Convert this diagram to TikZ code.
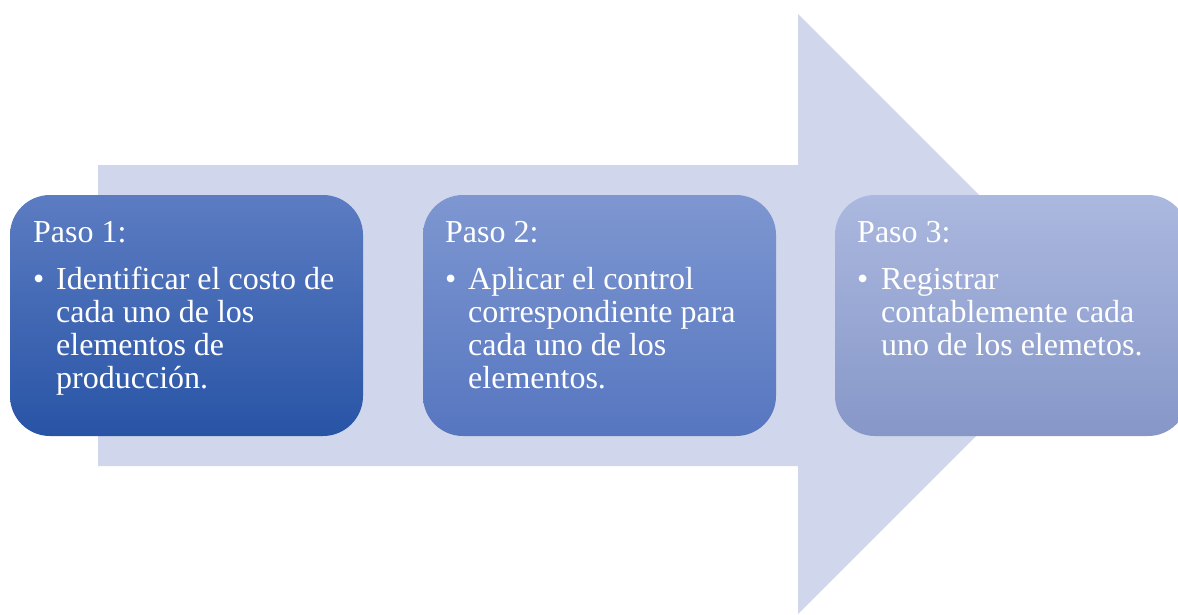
\documentclass[tikz,border=0pt]{standalone}
\usepackage{fontspec}
\setmainfont{Liberation Serif}
\definecolor{arrowfill}{RGB}{208,214,235}
\definecolor{boxAtop}{RGB}{92,124,194}
\definecolor{boxAbot}{RGB}{40,84,166}
\definecolor{boxBtop}{RGB}{126,151,209}
\definecolor{boxBbot}{RGB}{86,118,192}
\definecolor{boxCtop}{RGB}{171,184,223}
\definecolor{boxCbot}{RGB}{134,151,200}
\tikzset{
  stepbox/.style={rounded corners=40pt, minimum width=353pt, minimum height=241pt, inner sep=0pt, draw=none},
  txt/.style={anchor=base west, inner sep=0pt, text=white, font={\fontsize{32}{33}\selectfont}},
  bodytxt/.style={txt, align=left}
}
\begin{document}
\begin{tikzpicture}[x=1pt,y=-1pt]
\useasboundingbox (0,0) rectangle (1178,614);
\clip (0,0) rectangle (1178,614);
% big arrow
\fill[arrowfill] (98,165) -- (798,165) -- (798,14) -- (1098,314) -- (798,614) -- (798,466) -- (98,466) -- cycle;
% boxes
\node[stepbox, top color=boxAtop, bottom color=boxAbot] (b1) at (186.5,315.5) {};
\node[stepbox, top color=boxBtop, bottom color=boxBbot] (b2) at (599.5,315.5) {};
\node[stepbox, top color=boxCtop, bottom color=boxCbot] (b3) at (1011.5,315.5) {};
% texts box 1 (base anchor = last line baseline)
\node[txt] (h1) at (33,242) {Paso 1:};
\node[txt] (u1) at (33,289) {•};
\node[bodytxt] (l1) at (56,388) {Identificar el costo de\\cada uno de los\\elementos de\\producción.};
% texts box 2
\node[txt] (h2) at (445,242) {Paso 2:};
\node[txt] (u2) at (445,289) {•};
\node[bodytxt] (l2) at (468,388) {Aplicar el control\\correspondiente para\\cada uno de los\\elementos.};
% texts box 3
\node[txt] (h3) at (857,242) {Paso 3:};
\node[txt] (u3) at (857,289) {•};
\node[bodytxt] (l3) at (881,355) {Registrar\\contablemente cada\\uno de los elemetos.};
\end{tikzpicture}
\end{document}
